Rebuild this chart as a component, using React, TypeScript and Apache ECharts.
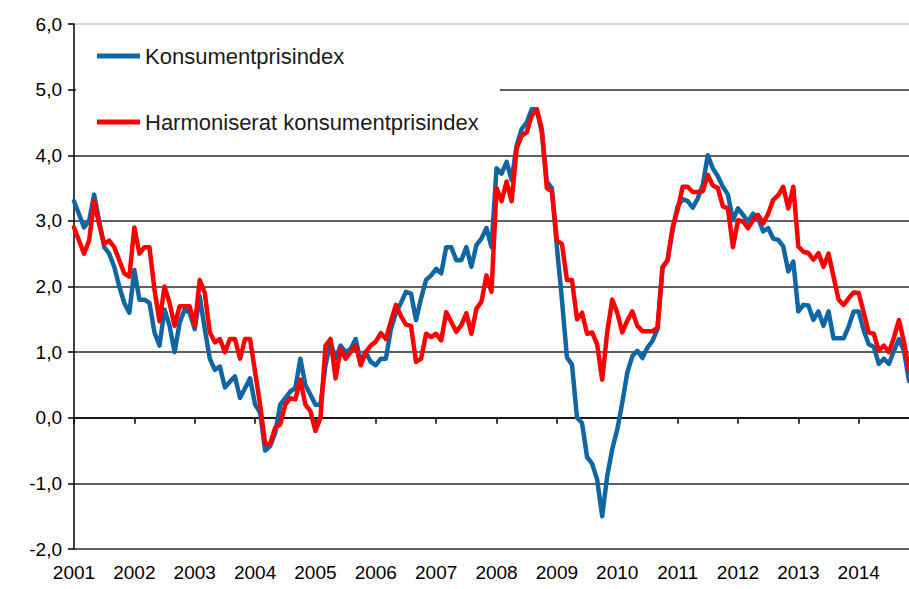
import React, { useEffect, useRef } from "react";
import * as echarts from "echarts";

const years = [2001, 2002, 2003, 2004, 2005, 2006, 2007, 2008, 2009, 2010, 2011, 2012, 2013, 2014];
const seriesNames = ["Konsumentprisindex", "Harmoniserat konsumentprisindex"];
const yTicks = [-2, -1, 0, 1, 2, 3, 4, 5, 6];

// Konsumentprisindex, annual change %, monthly Jan 2001 - Nov 2014
const kpiValues = [
  3.3, 3.1, 2.9, 3.0, 3.4, 3.0, 2.6, 2.5, 2.3, 2.0, 1.75, 1.6,
  2.25, 1.8, 1.8, 1.75, 1.3, 1.1, 1.65, 1.4, 1.0, 1.45, 1.65, 1.6,
  1.35, 1.85, 1.35, 0.9, 0.73, 0.78, 0.46, 0.55, 0.63, 0.3, 0.45, 0.6,
  0.2, 0.08, -0.5, -0.43, -0.23, 0.2, 0.3, 0.4, 0.45, 0.9, 0.5, 0.35,
  0.2, 0.2, 0.8, 1.15, 0.9, 1.1, 1.0, 1.05, 1.2, 0.85, 1.0, 0.85,
  0.8, 0.9, 0.9, 1.35, 1.6, 1.75, 1.92, 1.89, 1.49, 1.82, 2.1, 2.17,
  2.27, 2.2, 2.6, 2.6, 2.4, 2.4, 2.6, 2.3, 2.63, 2.73, 2.89, 2.6,
  3.8, 3.72, 3.9, 3.62, 4.15, 4.4, 4.5, 4.7, 4.7, 4.35, 3.6, 3.5,
  2.6, 1.8, 0.92, 0.81, 0.0, -0.08, -0.6, -0.7, -0.94, -1.5, -0.89, -0.48,
  -0.18, 0.23, 0.69, 0.94, 1.02, 0.91, 1.07, 1.17, 1.35, 2.28, 2.4, 2.86,
  3.22, 3.33, 3.3, 3.2, 3.34, 3.55, 4.0, 3.8, 3.68, 3.52, 3.4, 3.01,
  3.19, 3.09, 2.99, 3.11, 3.05, 2.84, 2.89, 2.73, 2.71, 2.61, 2.23, 2.38,
  1.62, 1.72, 1.71, 1.49, 1.62, 1.4, 1.62, 1.21, 1.21, 1.21, 1.39, 1.62,
  1.62, 1.33, 1.12, 1.08, 0.82, 0.9, 0.82, 1.02, 1.2, 1.02, 0.56,
];

// Harmoniserat konsumentprisindex, annual change %, monthly Jan 2001 - Nov 2014
const hikpValues = [
  2.9, 2.7, 2.5, 2.7, 3.3, 2.95, 2.65, 2.7, 2.6, 2.4, 2.2, 2.15,
  2.9, 2.5, 2.6, 2.6, 1.95, 1.47, 2.0, 1.75, 1.4, 1.7, 1.7, 1.7,
  1.4, 2.1, 1.9, 1.3, 1.15, 1.2, 1.0, 1.2, 1.2, 0.9, 1.2, 1.2,
  0.7, 0.2, -0.4, -0.4, -0.15, -0.1, 0.2, 0.3, 0.28, 0.58, 0.2, 0.1,
  -0.2, 0.0, 1.1, 1.2, 0.6, 1.05, 0.9, 1.0, 1.1, 0.8, 1.0, 1.1,
  1.16, 1.29, 1.2, 1.47, 1.72, 1.55, 1.42, 1.4, 0.85, 0.9, 1.28, 1.23,
  1.28, 1.18, 1.61, 1.46, 1.31, 1.41, 1.59, 1.28, 1.66, 1.77, 2.17, 1.92,
  3.5, 3.3, 3.6, 3.3, 4.1, 4.3, 4.35, 4.6, 4.7, 4.4, 3.5, 3.45,
  2.7, 2.65, 2.1, 2.1, 1.5, 1.6, 1.28, 1.3, 1.12, 0.58, 1.3, 1.8,
  1.6, 1.3, 1.48, 1.62, 1.4, 1.32, 1.32, 1.32, 1.37, 2.3, 2.4, 2.9,
  3.17, 3.52, 3.52, 3.44, 3.44, 3.45, 3.7, 3.54, 3.5, 3.22, 3.19, 2.6,
  3.01, 2.99, 2.89, 3.01, 3.09, 2.96, 3.11, 3.32, 3.39, 3.52, 3.19, 3.52,
  2.61, 2.53, 2.51, 2.41, 2.51, 2.3, 2.5, 2.15, 1.8, 1.72, 1.82, 1.91,
  1.9, 1.6, 1.3, 1.28, 1.02, 1.1, 1.0, 1.22, 1.49, 1.15, 0.73,
];

const categories: string[] = [];
years.forEach((y) => {
  for (let m = 1; m <= 12; m++) categories.push(`${y}-${m < 10 ? "0" + m : m}`);
});
const months = categories.slice(0, kpiValues.length);

const axisFont = "'Liberation Sans', Arial, sans-serif";
const legendFont = "'Liberation Sans', Arial, sans-serif";

export default function App() {
  const ref = useRef<HTMLDivElement>(null);
  useEffect(() => {
    if (!ref.current) return;
    const chart = echarts.init(ref.current, null, { renderer: "svg" });
    const gridColors = yTicks.map((t) => (t === 6 ? "#c8c8c8" : "#2b2b2b"));
    chart.setOption({
      animation: false,
      backgroundColor: "#ffffff",
      grid: { left: 74, right: 0, top: 24, bottom: 40, containLabel: false },
      legend: {
        orient: "vertical",
        left: 76,
        top: 28,
        padding: [15, 21, 13, 21],
        itemGap: 40,
        itemWidth: 43,
        itemHeight: 5,
        icon: "rect",
        backgroundColor: "#ffffff",
        textStyle: { fontSize: 22, fontFamily: legendFont, color: "#1a1a1a", lineHeight: 26 },
        data: seriesNames,
      },
      xAxis: {
        type: "category",
        data: months,
        boundaryGap: false,
        axisLine: { show: true, lineStyle: { color: "#000", width: 1.5 } },
        axisTick: {
          show: true,
          interval: (i: number) => i % 12 === 0,
          length: 6,
          lineStyle: { color: "#000", width: 1.5 },
        },
        axisLabel: {
          interval: (i: number) => i % 12 === 0,
          formatter: (v: string) => v.slice(0, 4),
          margin: 14,
          fontSize: 19,
          fontFamily: axisFont,
          color: "#000",
        },
        splitLine: { show: false },
      },
      yAxis: {
        type: "value",
        min: -2,
        max: 6,
        interval: 1,
        axisLine: { show: true, lineStyle: { color: "#000", width: 1.5 } },
        axisTick: { show: true, length: 6, lineStyle: { color: "#000", width: 1.5 } },
        axisLabel: {
          formatter: (v: number) => v.toFixed(1).replace(".", ","),
          margin: 12,
          fontSize: 19,
          fontFamily: axisFont,
          color: "#000",
        },
        splitLine: { show: true, lineStyle: { color: gridColors, width: 1.5 } },
      },
      series: [
        {
          name: seriesNames[0],
          type: "line",
          data: kpiValues,
          symbol: "none",
          color: "#0f66a3",
          lineStyle: { width: 4.5, color: "#0f66a3", join: "round", cap: "round" },
          z: 2,
        },
        {
          name: seriesNames[1],
          type: "line",
          data: hikpValues,
          symbol: "none",
          color: "#ff0000",
          lineStyle: { width: 4.5, color: "#ff0000", join: "round", cap: "round" },
          z: 3,
        },
      ],
    });
    return () => chart.dispose();
  }, []);
  return (
    <div
      ref={ref}
      style={{ position: "absolute", left: 0, top: 0, width: 909, height: 589 }}
    />
  );
}
